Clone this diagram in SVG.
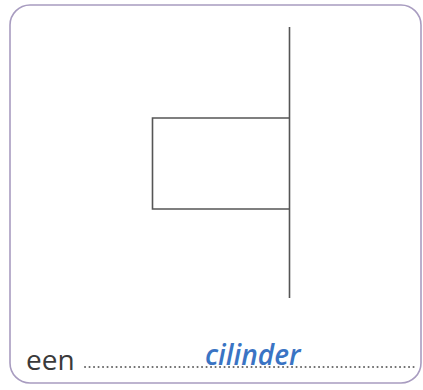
<svg xmlns="http://www.w3.org/2000/svg" width="423" height="390" viewBox="0 0 423 390">
<style>
.shape{fill:none;stroke:#555;stroke-width:1.6}
.lbl{font-family:"Open Sans","Liberation Sans",sans-serif}
</style>
<rect x="0" y="0" width="423" height="390" fill="#fff"/>
<rect x="10" y="5" width="411" height="378" rx="20" ry="20" fill="none" stroke="#a89cc0" stroke-width="1.6"/>
<g id="figure">
<line class="shape" x1="289.5" y1="27" x2="289.5" y2="298"/>
<polyline class="shape" points="289.5,118 152.5,118 152.5,209 289.5,209"/>
</g>
<g id="label">
<text class="lbl" x="26" y="370" font-size="28" fill="#3a3a3a">een</text>
<line x1="85" y1="367" x2="418" y2="367" stroke="#6a6a6a" stroke-width="2" stroke-linecap="round" stroke-dasharray="0.1 4.4"/>
<text class="lbl" x="205" y="365" font-size="28" font-weight="600" font-style="italic" fill="#3a74c4">cilinder</text>
</g>
</svg>
